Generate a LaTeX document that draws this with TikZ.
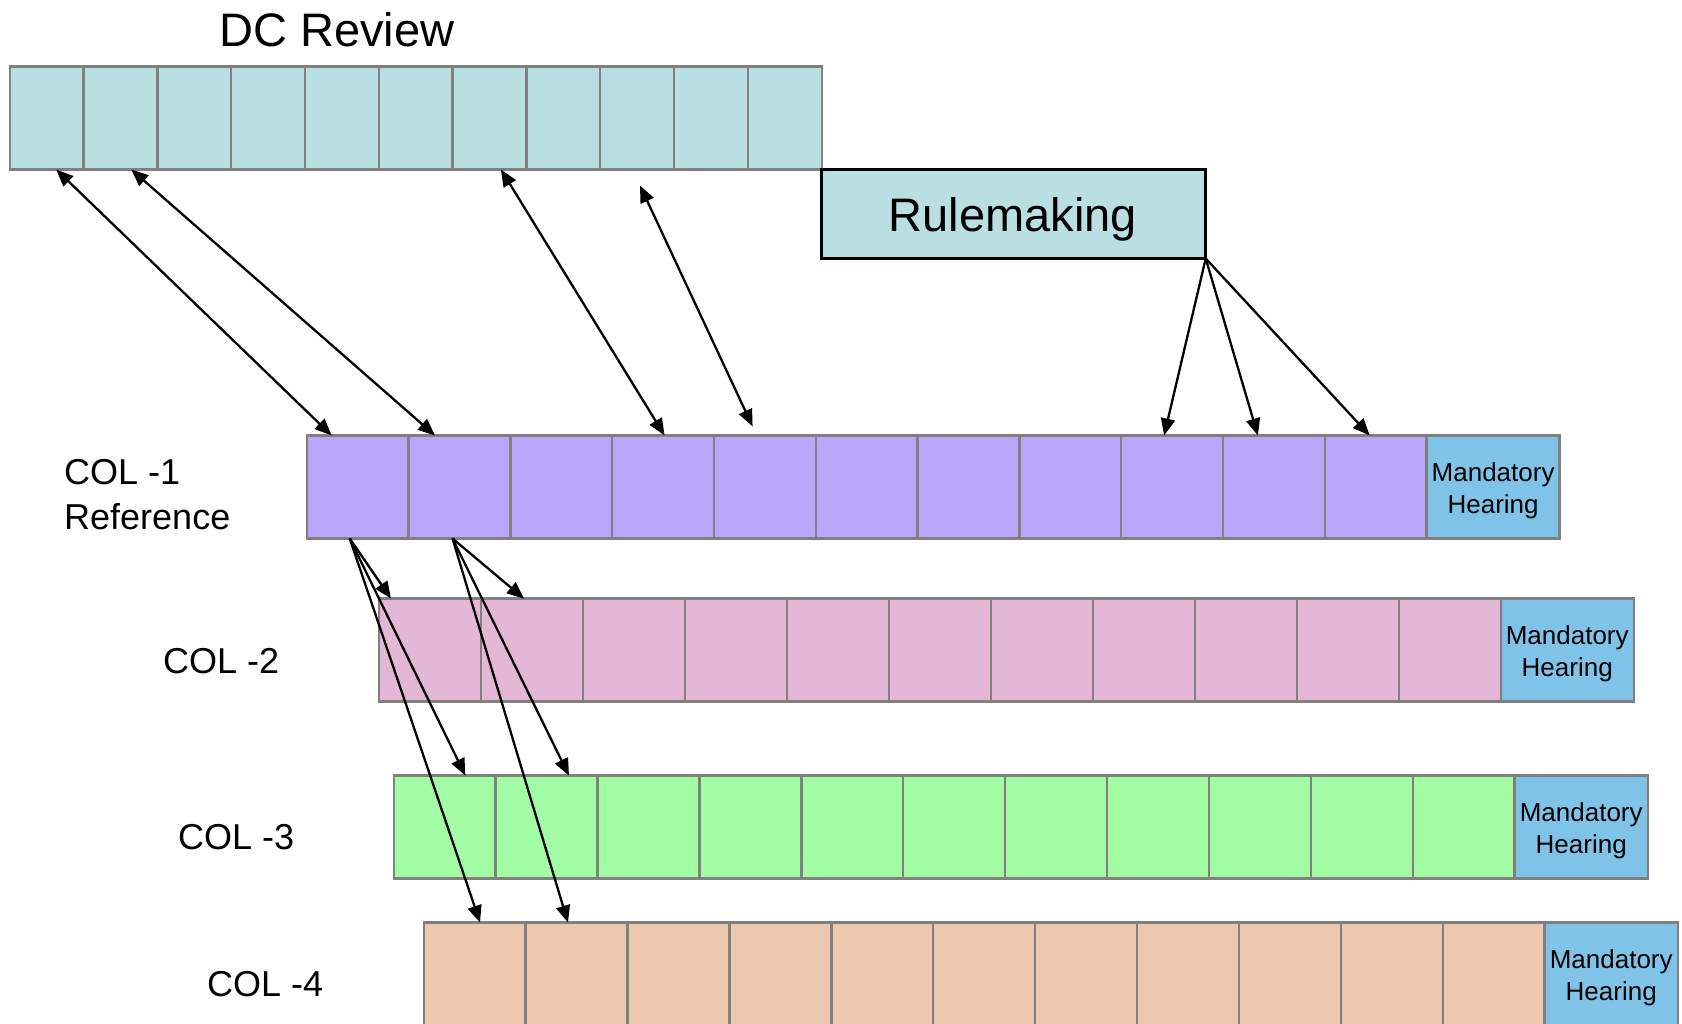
\documentclass[tikz,border=0pt]{standalone}
\usepackage{fontspec}
\setmainfont{Liberation Sans}
\usetikzlibrary{arrows.meta}
\definecolor{dcfill}{HTML}{B9DFE3}
\definecolor{purp}{HTML}{B8A6FA}
\definecolor{pink}{HTML}{E4B7D6}
\definecolor{grn}{HTML}{A2FCA3}
\definecolor{peach}{HTML}{EDC8AF}
\definecolor{mhblue}{HTML}{7FC3E8}
\definecolor{cellline}{HTML}{808080}
\tikzset{
  cellbox/.style={draw=cellline, line width=2.4pt, rectangle, inner sep=0pt, outer sep=0pt,
    minimum height=103pt, anchor=north west},
  dccell/.style={cellbox, fill=dcfill, minimum width=73.82pt},
  c1cell/.style={cellbox, fill=purp, minimum width=101.8pt},
  c2cell/.style={cellbox, fill=pink, minimum width=102pt},
  c3cell/.style={cellbox, fill=grn, minimum width=101.9pt},
  c4cell/.style={cellbox, fill=peach, minimum width=101.9pt},
  mhcell/.style={cellbox, fill=mhblue, minimum width=133pt,
    label={[align=center, inner sep=0pt, yshift=-4pt, font=\fontsize{26}{32}\selectfont]center:Mandatory\\Hearing}},
  rowlabel/.style={anchor=base west, inner sep=0pt, font=\fontsize{36}{45}\selectfont},
  conn/.style={line width=2.3pt, -{Triangle[length=17pt,width=14pt]}},
  dconn/.style={line width=2.3pt, {Triangle[length=17pt,width=14pt]}-{Triangle[length=17pt,width=14pt]}}
}
\begin{document}
\begin{tikzpicture}[x=1pt,y=-1pt]
\useasboundingbox (0,0) rectangle (1682,1024);
% title
\node[anchor=base, inner sep=0pt, font=\fontsize{47}{56}\selectfont] (title) at (337,47) {DC Review};
% DC review row
\foreach \i in {1,...,11}
  \node[dccell] (dc\i) at ({9.7+(\i-1)*73.82},66.5) {};
% Rulemaking
\node[draw=black, line width=3pt, fill=dcfill, rectangle, inner sep=0pt, outer sep=0pt,
  minimum width=384pt, minimum height=89pt, anchor=north west] (rule) at (821.7,169.5) {};
\node[anchor=base, inner sep=0pt, font=\fontsize{47}{56}\selectfont] (ruletext) at (1013,232) {Rulemaking};
% COL-1
\foreach \i in {1,...,11}
  \node[c1cell] (ca\i) at ({306.8+(\i-1)*101.8},435.5) {};
\node[mhcell] (mh1) at (1426.6,435.5) {};
% COL-2
\foreach \i in {1,...,11}
  \node[c2cell] (cb\i) at ({378.7+(\i-1)*102},598.6) {};
\node[mhcell] (mh2) at (1500.7,598.6) {};
% COL-3
\foreach \i in {1,...,11}
  \node[c3cell] (cc\i) at ({393.7+(\i-1)*101.9},775.6) {};
\node[mhcell] (mh3) at (1514.7,775.6) {};
% COL-4
\foreach \i in {1,...,11}
  \node[c4cell] (cd\i) at ({423.7+(\i-1)*101.9},922.5) {};
\node[mhcell] (mh4) at (1544.7,922.5) {};
% labels
\node[rowlabel] (l1a) at (64,484) {COL -1};
\node[rowlabel] (l1b) at (64,529) {Reference};
\node[rowlabel] (l2) at (163,673) {COL -2};
\node[rowlabel] (l3) at (178,849) {COL -3};
\node[rowlabel] (l4) at (207,996) {COL -4};
% DC <-> COL-1
\draw[dconn] ([xshift=9.6pt]dc1.south) -- ([xshift=-26pt]ca1.north);
\draw[dconn] ([xshift=10.8pt]dc2.south) -- ([xshift=-24.5pt]ca2.north);
\draw[dconn] ([xshift=11.4pt]dc7.south) -- ([xshift=1.5pt]ca4.north);
\draw[dconn] ([xshift=2.8pt,yshift=-16pt]dc9.south) -- ([xshift=-12.3pt,yshift=9pt]ca5.north);
% Rulemaking -> COL-1
\draw[conn] (rule.south east) -- ([xshift=-8pt]ca9.north);
\draw[conn] (rule.south east) -- ([xshift=-16pt]ca10.north);
\draw[conn] (rule.south east) -- ([xshift=-6pt]ca11.north);
% COL-1 -> lower rows
\draw[conn] ([xshift=-8pt]ca1.south) -- ([xshift=-38.7pt]cb1.north);
\draw[conn] ([xshift=-8pt]ca1.south) -- ([xshift=20.7pt]cc1.north);
\draw[conn] ([xshift=-8pt]ca1.south) -- ([xshift=5.4pt]cd1.north);
\draw[conn] ([xshift=-7pt]ca2.south) -- ([xshift=-7.7pt]cb2.north);
\draw[conn] ([xshift=-7pt]ca2.south) -- ([xshift=22.4pt]cc2.north);
\draw[conn] ([xshift=-7pt]ca2.south) -- ([xshift=-8.6pt]cd2.north);
\end{tikzpicture}
\end{document}
